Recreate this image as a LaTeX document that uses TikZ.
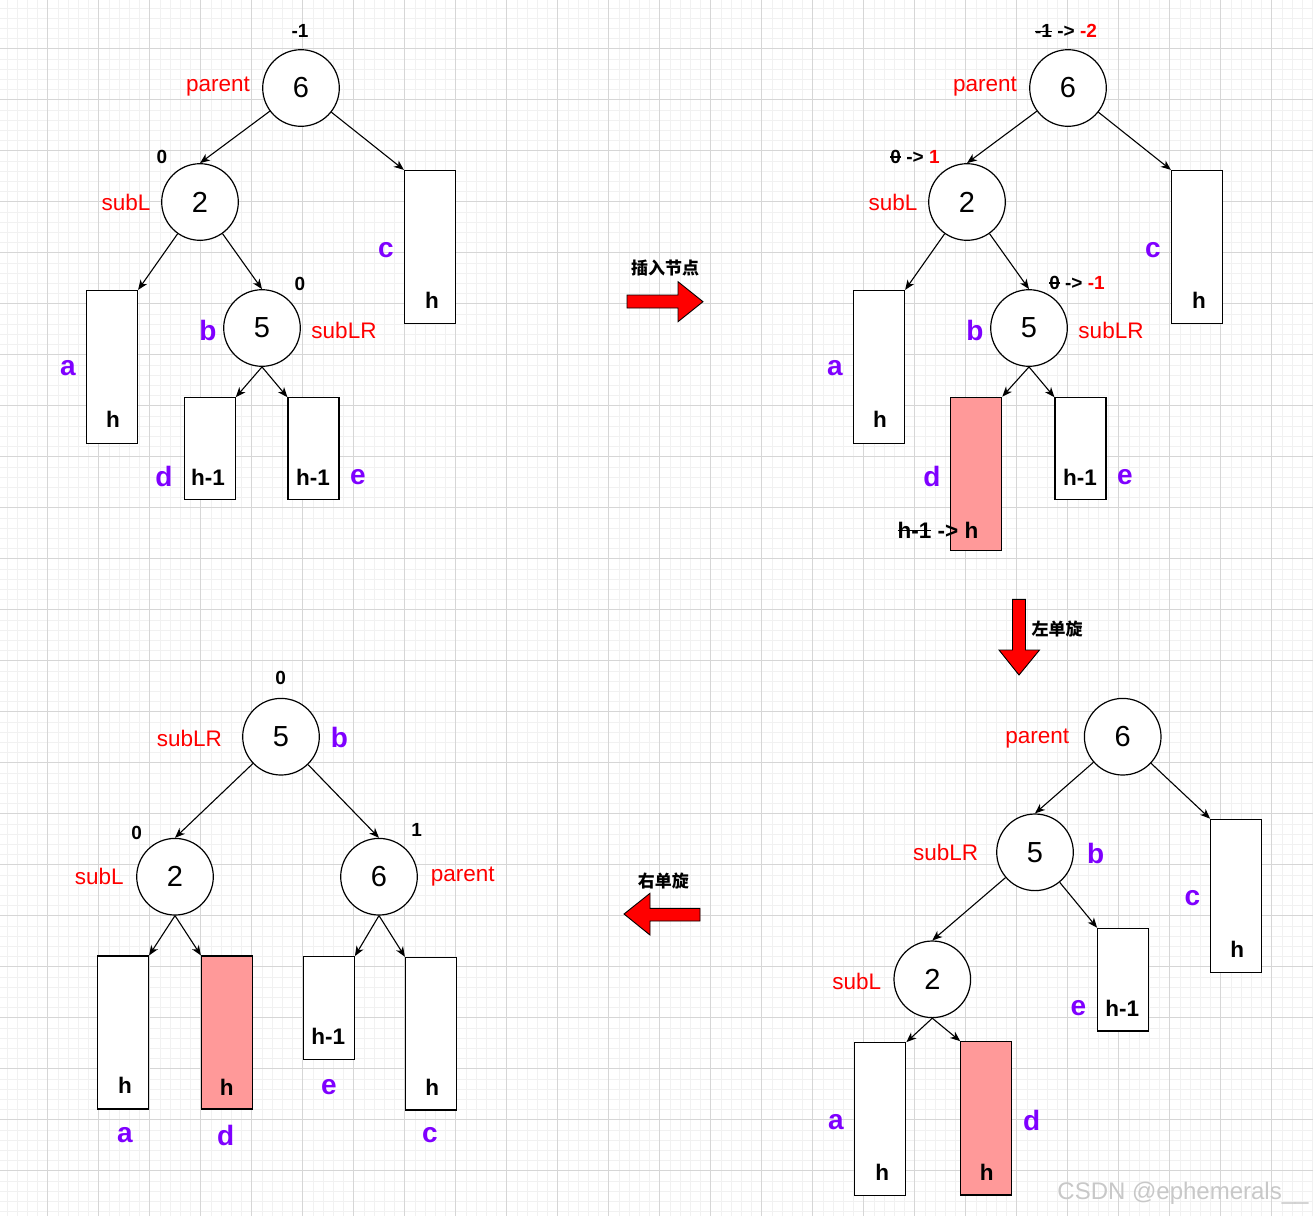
\documentclass[tikz,border=0pt]{standalone}
\usepackage{fontspec}
\setmainfont{Liberation Sans}
\newfontfamily\cjk{Noto Sans CJK SC}
\usetikzlibrary{arrows.meta}
\definecolor{myred}{HTML}{FF0000}
\definecolor{mypurple}{HTML}{7F00FF}
\definecolor{mypink}{HTML}{FF9999}
\definecolor{gmajor}{HTML}{D6D6D6}
\definecolor{gminor}{HTML}{F1F1F1}
\definecolor{wmark}{HTML}{C8C8C8}
\newcommand\mystrike[1]{\setbox0\hbox{#1}\rlap{\raisebox{0.3em}{\rule{\wd0}{1.4pt}}}\box0\relax}
\tikzset{
  circ/.style={circle, draw, line width=1.2pt, fill=white, minimum size=76.6pt, inner sep=0pt, font=\fontsize{29}{32}\selectfont},
  boxn/.style={draw, line width=1.2pt, fill=white, inner sep=0pt, minimum width=51pt},
  pinkn/.style={boxn, fill=mypink},
  role/.style={text=myred, inner sep=0pt, font=\fontsize{22.5}{25}\selectfont},
  lbl/.style={text=mypurple, inner sep=0pt, font=\bfseries\fontsize{28}{30}\selectfont},
  hh/.style={inner sep=0pt, font=\bfseries\fontsize{22.5}{25}\selectfont},
  bfac/.style={inner sep=0pt, font=\bfseries\fontsize{19}{21}\selectfont},
  cn/.style={inner sep=0pt, font=\cjk\bfseries\fontsize{17}{19}\selectfont},
  edge/.style={draw, line width=1.1pt, -{Stealth[length=10pt,width=8pt,inset=3pt]}},
  blockarrow/.style={draw=black, line width=0.9pt, fill=myred},
}
\begin{document}
\begin{tikzpicture}[x=1pt,y=-1pt]
\useasboundingbox (0,0) rectangle (1313,1216);
\fill[white] (0,0) rectangle (1313,1216);
% grid
\foreach \i in {0,...,129} \draw[gminor, line width=0.8pt] ({-3.3+10.2*\i},0) -- ++(0,1216);
\foreach \i in {0,...,120} \draw[gminor, line width=0.8pt] (0,{-2.3+10.2*\i}) -- ++(1313,0);
\foreach \i in {0,...,26} \draw[gmajor, line width=1pt] ({-3.3+51*\i},0) -- ++(0,1216);
\foreach \i in {0,...,24} \draw[gmajor, line width=1pt] (0,{-2.3+51*\i}) -- ++(1313,0);

% ================= Top-left tree =================
\node[circ] (a6) at (301,88) {6};
\node[circ] (a2) at (200,202) {2};
\node[circ] (a5) at (262,328) {5};
\node[boxn, minimum height=153pt] (aa) at (112,367) {};
\node[boxn, minimum height=153pt] (ac) at (430,247) {};
\node[boxn, minimum height=102pt] (ad) at (209.7,448.8) {};
\node[boxn, minimum height=102pt] (ae) at (313.5,448.8) {};
\node[bfac] (a6f) at (300,31) {-1};
\node[role] (a6r) at (218,87) {parent};
\node[bfac] (a2f) at (162,157) {0};
\node[role] (a2r) at (126,202) {subL};
\node[bfac] (a5f) at (300,284) {0};
\node[lbl] (a5l) at (208,330) {b};
\node[role] (a5r) at (344,330) {subLR};
\node[hh] (aah) at (113,419) {h};
\node[lbl] (aal) at (68,368) {a};
\node[hh] (ach) at (432,300) {h};
\node[lbl] (acl) at (386,250) {c};
\node[hh] (adh) at (208,477) {h-1};
\node[lbl] (adl) at (164,476) {d};
\node[hh] (aeh) at (313,477) {h-1};
\node[lbl] (ael) at (358,477) {e};
\draw[edge] (a6) -- (a2.north);
\draw[edge] (a6) -- (ac.north west);
\draw[edge] (a2) -- (aa.north east);
\draw[edge] (a2) -- (a5.north);
\draw[edge] (a5.south) -- (ad.north east);
\draw[edge] (a5.south) -- (ae.north west);

% ================= Top-right tree =================
\node[circ] (b6) at (1068,88) {6};
\node[circ] (b2) at (967,202) {2};
\node[circ] (b5) at (1029,328) {5};
\node[boxn, minimum height=153pt] (ba) at (879,367) {};
\node[boxn, minimum height=153pt] (bc) at (1197,247) {};
\node[pinkn, minimum height=153pt] (bd) at (976.2,473.7) {};
\node[boxn, minimum height=102pt] (be) at (1080.5,448.8) {};
\node[bfac] (b6f) at (1066,31) {\mystrike{-1} -> \textcolor{myred}{-2}};
\node[role] (b6r) at (985,87) {parent};
\node[bfac] (b2f) at (915,157) {\mystrike{0} -> \textcolor{myred}{1}};
\node[role] (b2r) at (893,202) {subL};
\node[bfac] (b5f) at (1077,283) {\mystrike{0} -> \textcolor{myred}{-1}};
\node[lbl] (b5l) at (975,330) {b};
\node[role] (b5r) at (1111,330) {subLR};
\node[hh] (bah) at (880,419) {h};
\node[lbl] (bal) at (835,368) {a};
\node[hh] (bch) at (1199,300) {h};
\node[lbl] (bcl) at (1153,250) {c};
\node[hh] (bdh) at (938,530) {\mystrike{h-1} -> h};
\node[lbl] (bdl) at (932,476) {d};
\node[hh] (beh) at (1080,477) {h-1};
\node[lbl] (bel) at (1125,477) {e};
\draw[edge] (b6) -- (b2.north);
\draw[edge] (b6) -- (bc.north west);
\draw[edge] (b2) -- (ba.north east);
\draw[edge] (b2) -- (b5.north);
\draw[edge] (b5.south) -- (bd.north east);
\draw[edge] (b5.south) -- (be.north west);

% ================= Bottom-left tree =================
\node[circ] (c5) at (281,736.7) {5};
\node[circ] (c2) at (175,876.7) {2};
\node[circ] (c6) at (379,876.7) {6};
\node[boxn, minimum height=153pt] (ca) at (123,1032.5) {};
\node[pinkn, minimum height=153pt] (cd) at (227,1032.5) {};
\node[boxn, minimum height=102.6pt] (ce) at (328.8,1008) {};
\node[boxn, minimum height=152.7pt] (cc) at (431,1033.7) {};
\node[bfac] (c5f) at (280.7,678.3) {0};
\node[role] (c5r) at (189.3,738.3) {subLR};
\node[lbl] (c5l) at (339.3,737.3) {b};
\node[bfac] (c2f) at (136.7,832.7) {0};
\node[role] (c2r) at (99.3,876) {subL};
\node[bfac] (c6f) at (416.7,830) {1};
\node[role] (c6r) at (462.7,876.7) {parent};
\node[hh] (cah) at (125,1085) {h};
\node[lbl] (cal) at (125,1135) {a};
\node[hh] (cdh) at (226.7,1087) {h};
\node[lbl] (cdl) at (225.7,1135) {d};
\node[hh] (ceh) at (328.3,1036.7) {h-1};
\node[lbl] (cel) at (329,1086.7) {e};
\node[hh] (cch) at (432.3,1087) {h};
\node[lbl] (ccl) at (430,1135) {c};
\draw[edge] (c5) -- (c2.north);
\draw[edge] (c5) -- (c6.north);
\draw[edge] (c2.south) -- (ca.north east);
\draw[edge] (c2.south) -- (cd.north west);
\draw[edge] (c6.south) -- (ce.north east);
\draw[edge] (c6.south) -- (cc.north west);

% ================= Bottom-right tree =================
\node[circ] (d6) at (1122.7,736.7) {6};
\node[circ] (d5) at (1035,852.3) {5};
\node[circ] (d2) at (932.3,979.3) {2};
\node[boxn, minimum height=153.4pt] (dc) at (1236.2,896) {};
\node[boxn, minimum height=102.7pt] (de) at (1123.2,979.7) {};
\node[boxn, minimum height=153pt] (da) at (880.3,1119.2) {};
\node[pinkn, minimum height=153.3pt] (dd) at (986.3,1118.4) {};
\node[role] (d6r) at (1037.3,738.3) {parent};
\node[role] (d5r) at (945.7,852.3) {subLR};
\node[lbl] (d5l) at (1095.7,853.3) {b};
\node[role] (d2r) at (856.7,981.7) {subL};
\node[hh] (dch) at (1237.3,949.3) {h};
\node[lbl] (dcl) at (1192.3,898.3) {c};
\node[hh] (deh) at (1122.3,1008.3) {h-1};
\node[lbl] (del) at (1078.3,1008.3) {e};
\node[hh] (dah) at (882.3,1172.3) {h};
\node[lbl] (dal) at (836,1121.7) {a};
\node[hh] (ddh) at (986.7,1172) {h};
\node[lbl] (ddl) at (1031.7,1120) {d};
\draw[edge] (d6) -- (d5.north);
\draw[edge] (d6) -- (dc.north west);
\draw[edge] (d5) -- (d2.north);
\draw[edge] (d5) -- (de.north west);
\draw[edge] (d2.south) -- (da.north east);
\draw[edge] (d2.south) -- (dd.north west);

% ================= Block arrows =================
\draw[blockarrow] (627,295) -- (678,295) -- (678,281.7) -- (703,301.7) -- (678,321.7) -- (678,308) -- (627,308) -- cycle;
\node[cn] (t1) at (665,268) {插入节点};
\draw[blockarrow] (1012.5,599.3) -- (1025.5,599.3) -- (1025.5,650) -- (1039.5,650) -- (1019,675) -- (999,650) -- (1012.5,650) -- cycle;
\node[cn] (t2) at (1057,629.3) {左单旋};
\draw[blockarrow] (700,908.3) -- (650,908.3) -- (650,893.3) -- (624,914) -- (650,935) -- (650,921) -- (700,921) -- cycle;
\node[cn] (t3) at (663.3,880.7) {右单旋};

% watermark
\node[inner sep=0pt, text=wmark, font=\fontsize{24}{26}\selectfont] (wm) at (1183,1193) {CSDN @ephemerals\_\_};
\end{tikzpicture}
\end{document}
